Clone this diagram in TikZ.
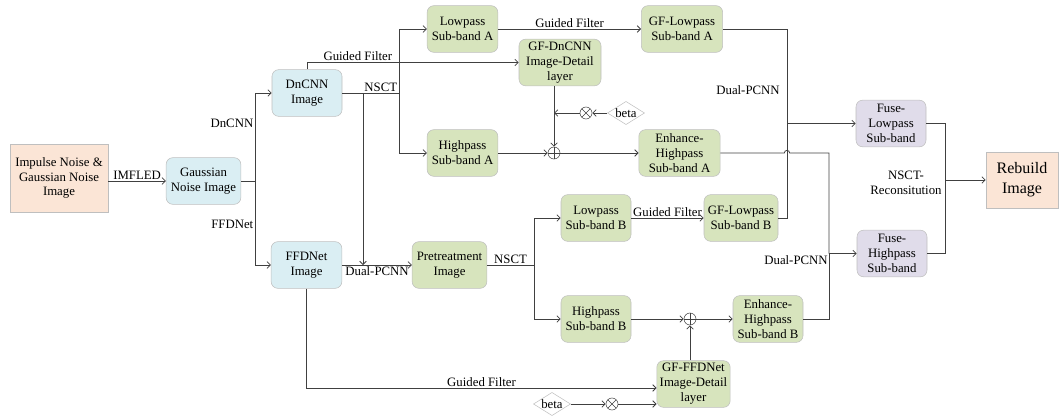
\documentclass[tikz,border=0pt]{standalone}
\usepackage{fontspec}
\setmainfont{Liberation Serif}
\usetikzlibrary{arrows.meta,shapes.geometric}
\definecolor{peach}{HTML}{FBE5D6}
\definecolor{skyfill}{HTML}{DAEEF3}
\definecolor{olivefill}{HTML}{D7E4BD}
\definecolor{lilac}{HTML}{E0DCEA}
\definecolor{wire}{HTML}{404040}

\begin{document}
\begin{tikzpicture}[x=0.75pt, y=-0.75pt, font=\fontsize{9.6}{11.2}\selectfont,
  box/.style={draw=black!25, rounded corners=5pt, align=center, inner sep=1pt, minimum height=35pt},
  dnbox/.style={box, fill=skyfill},
  gbox/.style={box, fill=olivefill},
  pbox/.style={box, fill=lilac},
  srcbox/.style={draw=black!25, fill=peach, align=center, inner sep=1pt},
  opcirc/.style={draw=wire, circle, minimum size=9pt, inner sep=0pt},
  oplus/.style={opcirc, path picture={\draw[wire] (path picture bounding box.north) -- (path picture bounding box.south) (path picture bounding box.west) -- (path picture bounding box.east);}},
  otimes/.style={opcirc, path picture={\draw[wire] ([shift={(45:4.5pt)}]path picture bounding box.center) -- ([shift={(225:4.5pt)}]path picture bounding box.center) ([shift={(135:4.5pt)}]path picture bounding box.center) -- ([shift={(315:4.5pt)}]path picture bounding box.center);}},
  gain/.style={diamond, draw=black!25, aspect=1.6, inner sep=0.2pt, text=black},
  ln/.style={wire, line width=0.6pt},
  arr/.style={ln, -{Straight Barb[length=2.5pt,width=5pt]}},
  lbl/.style={inner sep=1pt, text=black}]
\useasboundingbox (0,0) rectangle (1061,418);

\node[srcbox, minimum width=73.5pt, minimum height=51pt] (src) at (59,178) {Impulse Noise \&\\Gaussian Noise\\Image};
\node[dnbox, minimum width=56pt] (gauss) at (203.5,181) {Gaussian\\Noise Image};
\node[dnbox, minimum width=52.5pt] (dncnn) at (307,93) {DnCNN\\Image};
\node[dnbox, minimum width=53pt] (ffdnet) at (306.5,265) {FFDNet\\Image};
\node[gbox, minimum width=53pt] (lowA) at (462.5,29) {Lowpass\\Sub-band A};
\node[gbox, minimum width=61pt] (gflowA) at (682,29) {GF-Lowpass\\Sub-band A};
\node[gbox, minimum width=61.5pt] (gfdn) at (560,62.5) {GF-DnCNN\\Image-Detail\\layer};
\node[gbox, minimum width=53pt] (highA) at (462.5,153) {Highpass\\Sub-band A};
\node[oplus] (plusA) at (554,153) {};
\node[otimes] (timesA) at (586,113) {};
\node[gain] (betaA) at (626,113) {beta};
\node[gbox, minimum width=61pt] (enhA) at (679.5,153) {Enhance-\\Highpass\\Sub-band A};
\node[gbox, minimum width=56pt] (pre) at (449.5,265) {Pretreatment\\Image};
\node[gbox, minimum width=52.5pt] (lowB) at (596,218) {Lowpass\\Sub-band B};
\node[gbox, minimum width=55.5pt] (gflowB) at (741,218) {GF-Lowpass\\Sub-band B};
\node[gbox, minimum width=52.5pt] (highB) at (596,319) {Highpass\\Sub-band B};
\node[oplus] (plusB) at (690,319) {};
\node[gbox, minimum width=52.5pt] (enhB) at (768,319) {Enhance-\\Highpass\\Sub-band B};
\node[gbox, minimum width=55pt] (gfff) at (693.5,384) {GF-FFDNet\\Image-Detail\\layer};
\node[gain] (betaB) at (552,404) {beta};
\node[otimes] (timesB) at (612,404) {};
\node[pbox, minimum width=52.5pt] (fuseL) at (891,123.5) {Fuse-\\Lowpass\\Sub-band};
\node[pbox, minimum width=52.5pt] (fuseH) at (892,253.5) {Fuse-\\Highpass\\Sub-band};
\node[srcbox, minimum width=54pt, minimum height=42pt, font=\fontsize{12}{15}\selectfont] (rebuild) at (1022,180) {Rebuild\\Image};

\coordinate (br) at (255,181);
\coordinate (nsA) at (399,93);
\coordinate (dj) at (363,93);
\coordinate (mA) at (554,113);
\coordinate (nsB) at (534,265);
\coordinate (jL) at (787,123.5);
\coordinate (jH) at (829,253.5);
\coordinate (jR) at (945,180);

\draw[arr] (src.east |- gauss) -- node[above, lbl]{IMFLED} (gauss);
\draw[ln] (gauss) -- (br);
\draw[arr] (br) |- node[pos=0.33, left, lbl]{DnCNN} (dncnn);
\draw[arr] (br) |- node[pos=0.26, left, lbl]{FFDNet} (ffdnet);
\draw[arr] (dncnn.north) |- node[pos=0.62, above, lbl]{Guided Filter} (gfdn);
\draw[ln] (dncnn) -- node[pos=0.68, above, lbl]{NSCT} (nsA);
\draw[arr] (nsA) |- (lowA);
\draw[arr] (nsA) |- (highA);
\draw[arr] (dj) -- (dj |- pre);
\draw[arr] (ffdnet) -- node[below, lbl]{Dual-PCNN} (pre);
\draw[arr] (lowA) -- node[above, lbl]{Guided Filter} (gflowA);
\draw[arr] (highA) -- (plusA);
\draw[arr] (plusA) -- (enhA);
\draw[arr] (gfdn.south -| plusA) -- (plusA);
\draw[arr] (betaA) -- (timesA);
\draw[arr] (timesA) -- (mA);
\draw[ln] (pre) -- node[above, lbl]{NSCT} (nsB);
\draw[arr] (nsB) |- (lowB);
\draw[arr] (nsB) |- (highB);
\draw[arr] (lowB) -- node[above, lbl]{Guided Filter} (gflowB);
\draw[arr] (highB) -- (plusB);
\draw[arr] (plusB) -- (enhB);
\draw[arr] (gfff.north -| plusB) -- (plusB);
\draw[arr] (ffdnet.south) |- node[pos=0.75, above, lbl]{Guided Filter} ([yshift=-3pt]gfff.west);
\draw[arr] (betaB) -- (timesB);
\draw[arr] (timesB) -- (timesB -| gfff.west);
\draw[ln] (gflowA) -| (jL);
\draw[ln] (gflowB) -| (jL);
\draw[arr] (jL) -- (fuseL);
\node[lbl] (dpA) at (748,90) {Dual-PCNN};
\draw[ln] (enhA) -- ([xshift=-2pt]jL |- enhA) arc[start angle=180, end angle=0, radius=2pt] -| (jH);
\draw[ln] (enhB) -| (jH);
\draw[arr] (jH) -- (fuseH);
\node[lbl] (dpB) at (796,260) {Dual-PCNN};
\draw[ln] (fuseL) -| (jR);
\draw[ln] (fuseH) -| (jR);
\draw[arr] (jR) -- (rebuild);
\node[lbl, align=center] (rec) at (906,183) {NSCT-\\Reconsitution};
\end{tikzpicture}
\end{document}
